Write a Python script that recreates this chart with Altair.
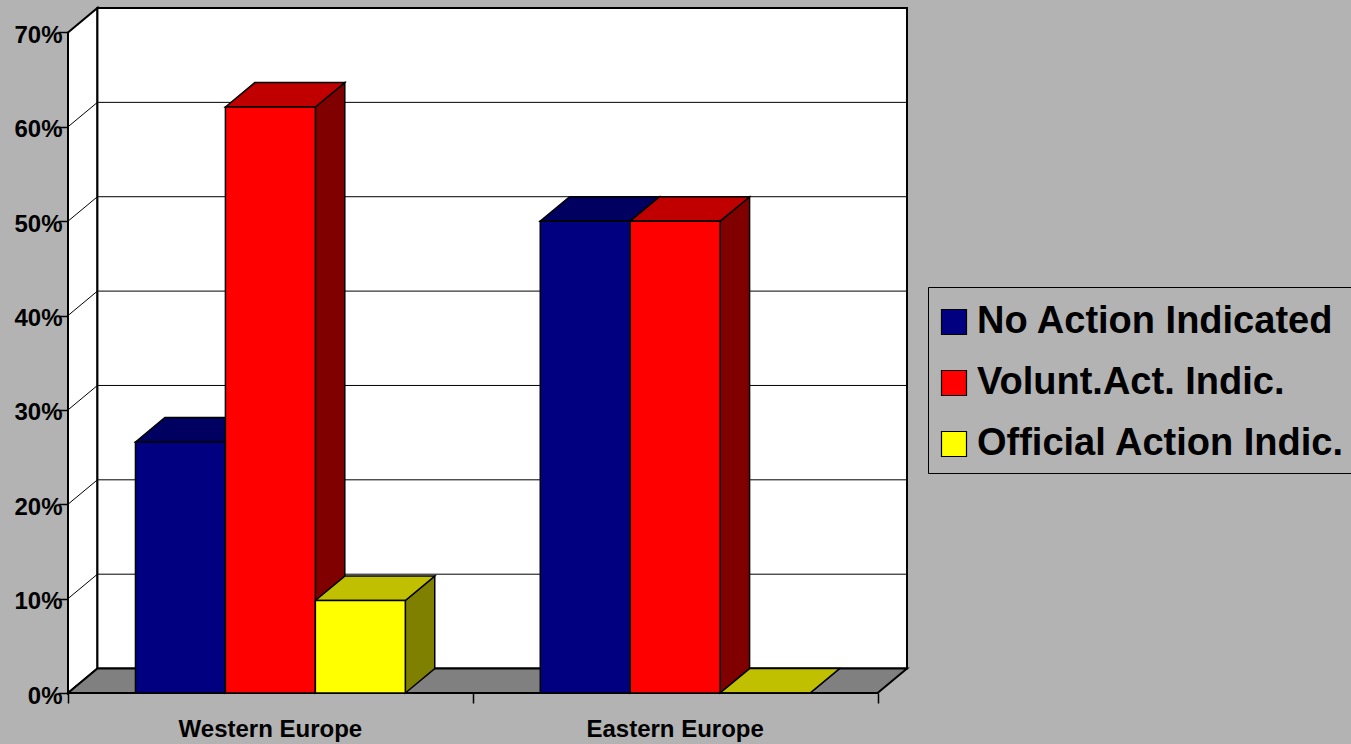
import altair as alt
import pandas as pd

# ---- chart values -------------------------------------------------------
regions = ["Western Europe", "Eastern Europe"]
series = ["No Action Indicated", "Volunt.Act. Indic.", "Official Action Indic."]
no_action = [26.6, 50.0]
voluntary = [62.1, 50.0]
official = [9.8, 0.0]
y_ticks = [0, 10, 20, 30, 40, 50, 60, 70]

front_colors = ["#000080", "#ff0000", "#ffff00"]
top_colors = ["#000060", "#c00000", "#c0c000"]
side_colors = ["#000040", "#800000", "#808000"]

FONT = "Liberation Sans"
BG = "#b3b3b3"

# 3-D box geometry, in data units
DX = 0.0727          # depth along x (category units)
DY = 2.59            # depth along y (percent units)
Y_MAX = 70
BAR_W = 1 / 4.5      # three bars + 150 % gap per category
GAP = 0.75 * BAR_W

values = [no_action, voluntary, official]

fronts, tops, sides = [], [], []
for gi, region in enumerate(regions):
    for si, name in enumerate(series):
        v = values[si][gi]
        x0 = gi + GAP + si * BAR_W
        x1 = x0 + BAR_W
        key = f"{gi}-{si}"
        fronts.append(dict(region=region, series=name, x0=x0, x1=x1, y0=0.0, y1=v))
        for x, y, y2 in [(x0, v, v), (x0 + DX, v + DY, v),
                         (x1, v + DY, v), (x1 + DX, v + DY, v + DY)]:
            tops.append(dict(key=key, fill=top_colors[si], x=x, y=y, y2=y2))
        for x, y, y2 in [(x1, v, 0.0), (x1 + DX, v + DY, DY)]:
            sides.append(dict(key=key, fill=side_colors[si], x=x, y=y, y2=y2))

fronts = pd.DataFrame(fronts)
tops = pd.DataFrame(tops)
sides = pd.DataFrame(sides)

xs = alt.Scale(domain=[0, len(regions) + DX], nice=False, zero=False)
ys = alt.Scale(domain=[0, Y_MAX + DY], nice=False, zero=False)

X_AX = alt.Axis(values=[0, 1, 2], labels=False, domain=False, grid=False,
                ticks=True, tickSize=10, tickColor="black", tickWidth=1.5,
                title=None)
Y_AX = alt.Axis(values=y_ticks, labelExpr="datum.value + '%'", domain=False,
                grid=False, ticks=True, tickSize=10, tickColor="black",
                tickWidth=1.5, labelFont=FONT, labelFontSize=24,
                labelFontWeight="bold", labelColor="black", labelPadding=-4,
                labelBaseline="alphabetic", labelOffset=10, title=None)


def X(field):
    return alt.X(field, type="quantitative", scale=xs, axis=X_AX)


def Y(field):
    return alt.Y(field, type="quantitative", scale=ys, axis=Y_AX, stack=None)


# ---- walls and floor ----------------------------------------------------
left_wall = pd.DataFrame({"x": [0, DX], "y": [Y_MAX, Y_MAX + DY], "y2": [0, DY]})
floor = pd.DataFrame({"x": [0, DX, len(regions), len(regions) + DX],
                      "y": [0, DY, DY, DY], "y2": [0, 0, 0, DY]})
back_wall = pd.DataFrame({"x": [DX], "x2": [len(regions) + DX],
                          "y": [DY], "y2": [Y_MAX + DY]})
grid_vals = y_ticks[1:-1]
back_grid = pd.DataFrame({"x": DX, "x2": len(regions) + DX,
                          "y": [v + DY for v in grid_vals]})
side_grid = pd.DataFrame({"x": 0.0, "x2": DX, "y": grid_vals,
                          "y2": [v + DY for v in grid_vals]})

left_wall_l = alt.Chart(left_wall).mark_area(
    fill="white", stroke="black", strokeWidth=2
).encode(x=X("x"), y=Y("y"), y2="y2")

back_wall_l = alt.Chart(back_wall).mark_rect(
    fill="white", stroke="black", strokeWidth=2
).encode(x=X("x"), x2="x2", y=Y("y"), y2="y2")

floor_l = alt.Chart(floor).mark_area(
    fill="#808080", stroke="black", strokeWidth=2
).encode(x=X("x"), y=Y("y"), y2="y2")

back_grid_l = alt.Chart(back_grid).mark_rule(color="black", strokeWidth=1).encode(
    x=X("x"), x2="x2", y=Y("y"))

side_grid_l = alt.Chart(side_grid).mark_rule(color="black", strokeWidth=1).encode(
    x=X("x"), x2="x2", y=Y("y"), y2="y2")

# ---- bars: side faces, then top faces, then front faces ------------------
sides_l = alt.Chart(sides).mark_area(stroke="black", strokeWidth=1.5).encode(
    x=X("x"), y=Y("y"), y2="y2", detail="key:N",
    fill=alt.Fill("fill:N", scale=None))

tops_l = alt.Chart(tops).mark_area(stroke="black", strokeWidth=1.5).encode(
    x=X("x"), y=Y("y"), y2="y2", detail="key:N",
    fill=alt.Fill("fill:N", scale=None))

fronts_l = alt.Chart(fronts).mark_rect(stroke="black", strokeWidth=1.5).encode(
    x=X("x0"), x2="x1", y=Y("y0"), y2="y1",
    color=alt.Color(
        "series:N",
        scale=alt.Scale(domain=series, range=front_colors),
        legend=alt.Legend(
            title=" ", titleFontSize=6, titlePadding=0,
            orient="none", legendX=860, legendY=279,
            direction="vertical", symbolType="square", symbolSize=625,
            symbolStrokeColor="black", symbolStrokeWidth=1.2,
            symbolOffset=-3,
            labelFont=FONT, labelFontSize=38, labelFontWeight="bold",
            labelColor="black", labelOffset=4, labelLimit=1000,
            rowPadding=23, padding=10, strokeColor="black", fillColor=BG,
        ),
    ),
)

# ---- category labels ----------------------------------------------------
cats = pd.DataFrame({"x": [i + 0.5 for i in range(len(regions))],
                     "y": 0.0, "region": regions})
cats_l = alt.Chart(cats).mark_text(
    dy=44, baseline="alphabetic", align="center", font=FONT, fontSize=24,
    fontWeight="bold", color="black"
).encode(x=X("x"), y=Y("y"), text="region:N")

chart = alt.layer(
    left_wall_l, back_wall_l, floor_l, back_grid_l, side_grid_l,
    sides_l, tops_l, fronts_l, cats_l,
).properties(
    width=839, height=685,
    padding={"left": 68, "top": 8, "right": 444, "bottom": 51},
    autosize=alt.AutoSizeParams(type="none"),
    background=BG,
).configure_view(stroke=None)

chart.save("out.html", embed_options={"renderer": "svg", "actions": False})
